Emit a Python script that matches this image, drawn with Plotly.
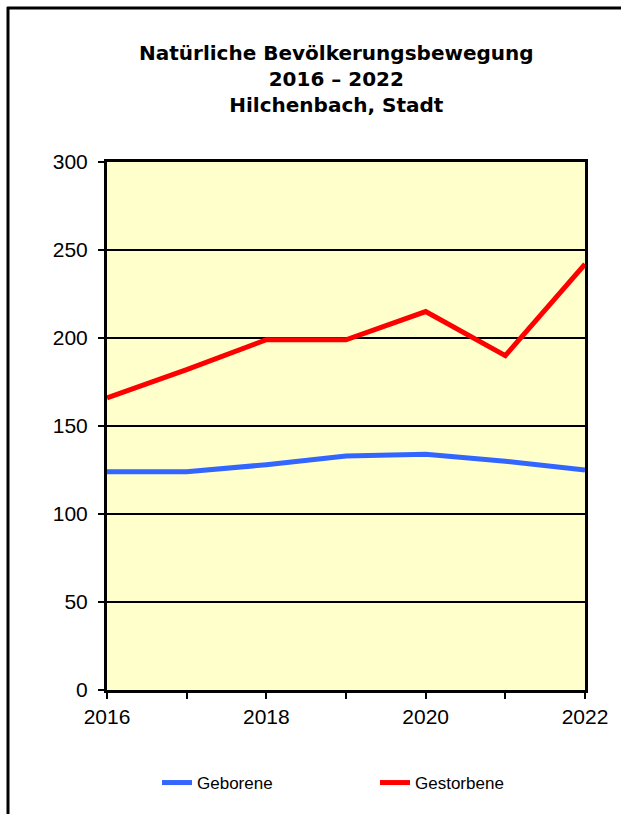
import plotly.graph_objects as go

years = [2016, 2017, 2018, 2019, 2020, 2021, 2022]
geborene = [124, 124, 128, 133, 134, 130, 125]
gestorbene = [166, 182, 199, 199, 215, 190, 242]
x_tick_labels = ["2016", "", "2018", "", "2020", "", "2022"]
y_ticks = [0, 50, 100, 150, 200, 250, 300]
title_lines = ["Natürliche Bevölkerungsbewegung", "2016 – 2022", "Hilchenbach, Stadt"]

W, H = 621, 814
# plot area in window pixels: x 107..585, y 162..690
L, R = 107, 621 - 585
pw = W - L - R
Y_TOP, Y_BOT = 162, 690

def px_x(p):
    return (p - L) / pw

def px_y(p):
    return (H - p) / H

fig = go.Figure()
fig.add_trace(go.Scatter(x=years, y=geborene, mode="lines", name="Geborene",
                         line=dict(color="#3366FF", width=5)))
fig.add_trace(go.Scatter(x=years, y=gestorbene, mode="lines", name="Gestorbene",
                         line=dict(color="#FF0000", width=5)))

fig.update_layout(
    width=W, height=H,
    margin=dict(l=L, r=R, t=0, b=0, pad=0, autoexpand=False),
    paper_bgcolor="white",
    plot_bgcolor="#FFFFCC",
    font=dict(family="Liberation Sans, Arial, sans-serif", color="black"),
    xaxis=dict(
        range=[2016, 2022], tickvals=years, ticktext=x_tick_labels,
        ticks="outside", ticklen=6, tickwidth=2, tickcolor="black",
        showgrid=False, zeroline=False, automargin=False,
        showline=True, linecolor="black", linewidth=3, mirror=True,
        tickfont=dict(size=21), fixedrange=True,
    ),
    yaxis=dict(
        range=[0, 300], tickvals=y_ticks, domain=[px_y(Y_BOT), px_y(Y_TOP)],
        ticks="outside", ticklen=6, tickwidth=2, tickcolor="black",
        showgrid=True, gridcolor="black", gridwidth=2, zeroline=False,
        automargin=False,
        showline=True, linecolor="black", linewidth=3, mirror=True,
        tickfont=dict(size=21), fixedrange=True, ticklabelstandoff=6,
    ),
    legend=dict(
        orientation="h", x=px_x(157), xanchor="left",
        y=px_y(783), yanchor="middle",
        font=dict(size=17), entrywidth=173, entrywidthmode="pixels",
        bgcolor="rgba(0,0,0,0)",
    ),
    showlegend=True,
)

fig.add_annotation(text="<b>" + "<br>".join(title_lines) + "</b>",
                   xref="paper", yref="paper",
                   x=px_x(336), y=px_y(79), xanchor="center", yanchor="middle",
                   showarrow=False, align="center",
                   font=dict(size=20, family="DejaVu Sans, sans-serif", color="black"))

# outer chart frame (left and top edges visible in the window)
fig.add_shape(type="line", xref="paper", yref="paper",
              x0=px_x(8), x1=px_x(8), y0=px_y(900), y1=px_y(7),
              line=dict(color="black", width=3))
fig.add_shape(type="line", xref="paper", yref="paper",
              x0=px_x(7), x1=px_x(700), y0=px_y(8), y1=px_y(8),
              line=dict(color="black", width=3))

fig.write_html("out.html", config={"displayModeBar": False},
               post_script="document.body.style.margin='0';")
